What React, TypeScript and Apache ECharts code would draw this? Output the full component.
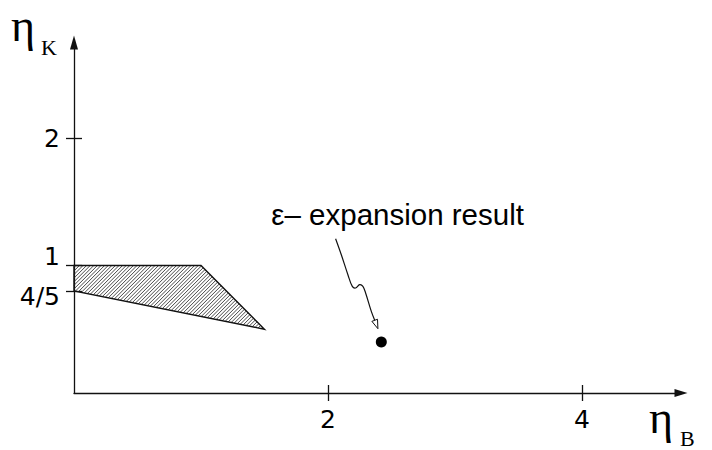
import React, { useEffect, useRef } from 'react';
import * as echarts from 'echarts';

// Shaded region vertices (eta_B, eta_K)
const regionEtaB = [0, 1, 1.5, 0];
const regionEtaK = [1, 1, 0.5, 0.8];
// epsilon-expansion result point
const resultPoint = [2.42, 0.4];
const annotationText = 'ε– expansion result';
// axis ticks
const xTickValues = [2, 4];
const xTickLabels = ['2', '4'];
const yTickValues = [0.8, 1, 2];
const yTickLabels = ['4/5', '1', '2'];
const xMax = 4.78;
const yMax = 2.75;

const INK = '#111';
const SANS = '"Liberation Sans", Arial, sans-serif';
const TICKFONT = '"DejaVu Sans", sans-serif';
const SERIF = '"Liberation Serif", "Times New Roman", serif';

// squiggle arrow path, offsets in px relative to the result point
const squiggle = [
  [-45.7, -103.3], [-40, -87.3], [-33.4, -67.3], [-29, -55.6], [-25.7, -54],
  [-21.7, -57.3], [-18.4, -55.6], [-15.7, -49], [-10, -30.6], [-6.6, -21.7],
];
const arrowTip = [-3.4, -13.3];

const yLabelFor = (v: number) => yTickLabels[yTickValues.indexOf(v)] ?? '';

function buildOption(): any {
  const axisLineStyle = { color: INK, width: 1.3 };
  const baseX = {
    type: 'value', min: 0, max: xMax, position: 'bottom',
    splitLine: { show: false },
  };
  const baseY = {
    type: 'value', min: 0, max: yMax, position: 'left',
    splitLine: { show: false },
  };
  const yRich = {
    t: { fontSize: 25, fontFamily: TICKFONT, color: '#000', lineHeight: 25 },
    g: { fontSize: 10, lineHeight: 18 },
    h: { fontSize: 10, lineHeight: 10 },
  };
  // "1" and "4/5" sit close together, so they go on two overlaid axes
  const yValuesA = yTickValues.filter((v) => v !== 1);
  const yValuesB = yTickValues.filter((v) => v === 1);
  return {
    animation: false,
    backgroundColor: '#fff',
    grid: { left: 74, right: 31, top: 42.4, bottom: 57 },
    xAxis: [
      {
        ...baseX,
        axisLine: { show: true, onZero: false, symbol: ['none', 'triangle'], symbolSize: [8, 13], lineStyle: axisLineStyle },
        axisTick: { show: true, inside: false, length: 8, customValues: xTickValues, lineStyle: axisLineStyle },
        axisLabel: {
          show: true, customValues: xTickValues, margin: 14,
          showMinLabel: true, showMaxLabel: true, hideOverlap: false,
          fontSize: 25, fontFamily: TICKFONT, color: '#000',
          formatter: (v: number) => xTickLabels[xTickValues.indexOf(v)] ?? '',
        },
      },
      {
        ...baseX,
        axisLine: { show: false },
        axisTick: { show: true, inside: true, length: 8, customValues: xTickValues, lineStyle: axisLineStyle },
        axisLabel: { show: false },
      },
    ],
    yAxis: [
      {
        ...baseY,
        axisLine: { show: true, onZero: false, symbol: ['none', 'triangle'], symbolSize: [8, 14], lineStyle: axisLineStyle },
        axisTick: { show: true, inside: false, length: 8, customValues: yTickValues, lineStyle: axisLineStyle },
        axisLabel: {
          show: true, customValues: yValuesA, margin: 14,
          showMinLabel: true, showMaxLabel: true, hideOverlap: false,
          fontSize: 25, fontFamily: TICKFONT, color: '#000',
          formatter: (v: number) => {
            const lbl = yLabelFor(v);
            if (v === 0.8) return '{h| }\n{t|' + lbl + '}';
            return '{t|' + lbl + '}';
          },
          rich: yRich,
        },
      },
      {
        ...baseY,
        axisLine: { show: false },
        axisTick: { show: true, inside: true, length: 8, customValues: yTickValues, lineStyle: axisLineStyle },
        axisLabel: {
          show: true, customValues: yValuesB, margin: 14,
          showMinLabel: true, showMaxLabel: true, hideOverlap: false,
          fontSize: 25, fontFamily: TICKFONT, color: '#000',
          formatter: (v: number) => '{t|' + yLabelFor(v) + '}\n{g| }',
          rich: yRich,
        },
      },
    ],
    graphic: [
      { type: 'text', x: 11, y: 25, style: { text: 'η', fontSize: 46, fontFamily: SERIF, fill: '#000', verticalAlign: 'middle' } },
      { type: 'text', x: 41, y: 47, style: { text: 'K', fontSize: 22, fontFamily: SERIF, fill: '#000', verticalAlign: 'middle' } },
      { type: 'text', x: 649, y: 417, style: { text: 'η', fontSize: 46, fontFamily: SERIF, fill: '#000', verticalAlign: 'middle' } },
      { type: 'text', x: 680, y: 438.5, style: { text: 'B', fontSize: 22, fontFamily: SERIF, fill: '#000', verticalAlign: 'middle' } },
    ],
    series: [
      {
        type: 'custom',
        coordinateSystem: 'cartesian2d',
        silent: true,
        clip: false,
        data: [[0, 0]],
        renderItem: (_params: any, api: any) => {
          const pts = regionEtaB.map((x, i) => api.coord([x, regionEtaK[i]]));
          let minC = Infinity, maxC = -Infinity;
          pts.forEach((p: number[]) => {
            const c = p[0] + p[1];
            minC = Math.min(minC, c);
            maxC = Math.max(maxC, c);
          });
          const lines: any[] = [];
          for (let c = minC + 1.8; c < maxC; c += 3.6) {
            const hits: number[][] = [];
            for (let i = 0; i < pts.length; i++) {
              const a = pts[i];
              const b = pts[(i + 1) % pts.length];
              const sa = a[0] + a[1] - c;
              const sb = b[0] + b[1] - c;
              if ((sa <= 0 && sb > 0) || (sa > 0 && sb <= 0)) {
                const t = sa / (sa - sb);
                hits.push([a[0] + t * (b[0] - a[0]), a[1] + t * (b[1] - a[1])]);
              }
            }
            if (hits.length >= 2) {
              hits.sort((p, q) => p[0] - q[0]);
              const h0 = hits[0];
              const h1 = hits[hits.length - 1];
              lines.push({
                type: 'line',
                shape: { x1: h0[0], y1: h0[1], x2: h1[0], y2: h1[1] },
                style: { stroke: '#333', lineWidth: 0.9 },
              });
            }
          }
          return {
            type: 'group',
            children: [
              ...lines,
              { type: 'polygon', shape: { points: pts }, style: { fill: 'none', stroke: INK, lineWidth: 1.4 } },
            ],
          };
        },
      },
      {
        type: 'scatter',
        data: [resultPoint],
        symbol: 'circle',
        symbolSize: 11,
        itemStyle: { color: '#000', opacity: 1 },
        silent: true,
      },
      {
        type: 'custom',
        coordinateSystem: 'cartesian2d',
        silent: true,
        clip: false,
        data: [resultPoint],
        renderItem: (_params: any, api: any) => {
          const c = api.coord([api.value(0), api.value(1)]);
          const pts = squiggle.map((p) => [c[0] + p[0], c[1] + p[1]]);
          const tip = [c[0] + arrowTip[0], c[1] + arrowTip[1]];
          const base = pts[pts.length - 1];
          const dx = tip[0] - base[0];
          const dy = tip[1] - base[1];
          const len = Math.sqrt(dx * dx + dy * dy);
          const nx = -dy / len;
          const ny = dx / len;
          const hw = 3;
          return {
            type: 'group',
            children: [
              {
                type: 'text',
                x: c[0] - 110,
                y: c[1] - 127.5,
                style: { text: annotationText, fontSize: 29.5, fontFamily: SANS, fill: '#000', verticalAlign: 'middle' },
              },
              {
                type: 'polyline',
                shape: { points: pts, smooth: 0.35 },
                style: { stroke: INK, lineWidth: 1.2, fill: 'none' },
              },
              {
                type: 'polygon',
                shape: { points: [tip, [base[0] + nx * hw, base[1] + ny * hw], [base[0] - nx * hw, base[1] - ny * hw]] },
                style: { stroke: INK, lineWidth: 1, fill: '#fff' },
              },
            ],
          };
        },
      },
    ],
  };
}

export default function App() {
  const ref = useRef<HTMLDivElement>(null);
  useEffect(() => {
    if (!ref.current) return;
    const chart = echarts.init(ref.current, null, { renderer: 'svg' });
    chart.setOption(buildOption());
    return () => chart.dispose();
  }, []);
  return (
    <div
      ref={ref}
      style={{ position: 'absolute', left: 0, top: 0, width: 712, height: 450, background: '#fff' }}
    />
  );
}
